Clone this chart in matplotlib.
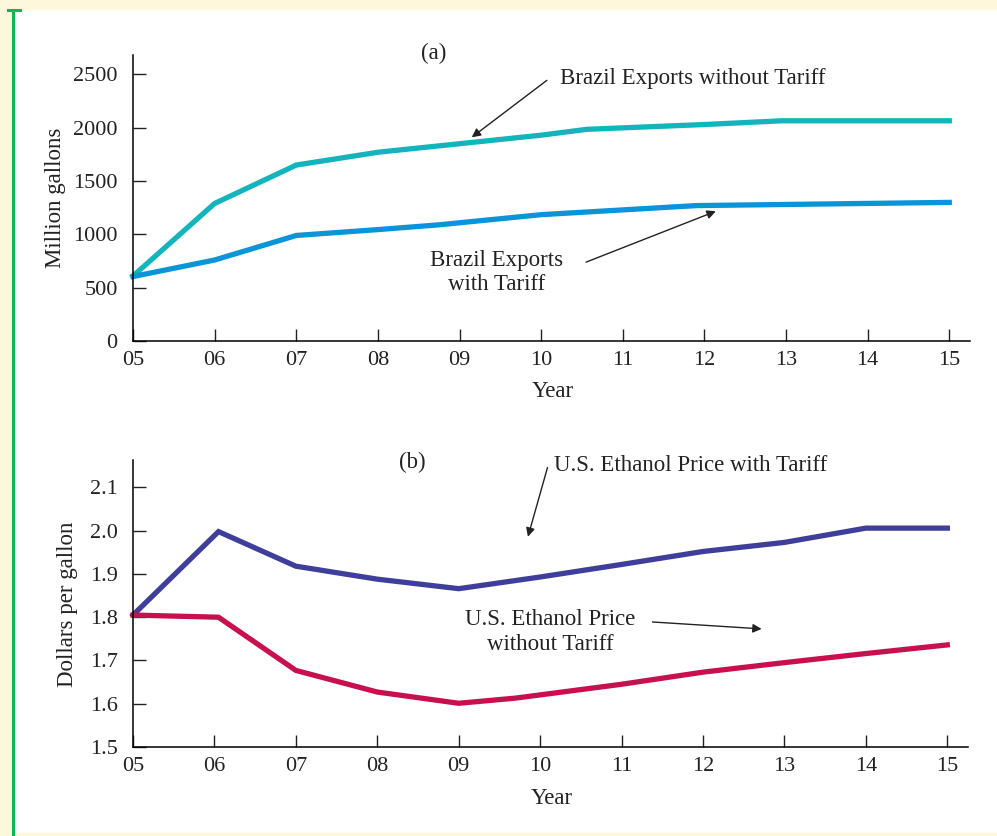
import matplotlib.pyplot as plt
from matplotlib.patches import Rectangle
from matplotlib.lines import Line2D

# panel (a): Brazil exports, million gallons
yr_no_tariff = [5, 6, 7, 8, 9, 10, 10.56, 12, 12.95, 15]
exp_no_tariff = [610, 1290, 1650, 1770, 1850, 1930, 1985, 2030, 2065, 2065]
yr_tariff = [5, 6, 7, 8, 8.75, 10, 11.9, 15]
exp_tariff = [605, 760, 990, 1045, 1090, 1185, 1270, 1300]

# panel (b): U.S. ethanol price, dollars per gallon
yr_price = [5, 6.05, 7, 8, 9, 10, 11, 12, 13, 14, 15]
price_tariff = [1.805, 1.998, 1.918, 1.888, 1.866, 1.893, 1.922, 1.952, 1.973, 2.006, 2.006]
yr_price_no = [5, 6.05, 7, 8, 9, 9.7, 11, 12, 13, 14, 15]
price_no_tariff = [1.805, 1.800, 1.677, 1.627, 1.601, 1.613, 1.645, 1.673, 1.695, 1.716, 1.736]

year_ticks = [5, 6, 7, 8, 9, 10, 11, 12, 13, 14, 15]
year_labels = ['05', '06', '07', '08', '09', '10', '11', '12', '13', '14', '15']

plt.rcParams['font.family'] = ['Liberation Serif', 'DejaVu Serif']
plt.rcParams['font.size'] = 16.5

fig = plt.figure(figsize=(9.97, 8.36), dpi=100)
fig.patch.set_facecolor('white')

# page frame: pale yellow margins and green rule
bg = '#fdf8dc'
fig.patches.append(Rectangle((0, 0.989), 1, 0.011, transform=fig.transFigure, color=bg, zorder=0))
fig.patches.append(Rectangle((0, 0), 0.012, 1, transform=fig.transFigure, color=bg, zorder=0))
fig.patches.append(Rectangle((0, 0), 1, 0.003, transform=fig.transFigure, color=bg, zorder=0))
fig.lines.append(Line2D([0.0135, 0.0135], [0, 0.9875], transform=fig.transFigure, color='#10b654', lw=2.2))
fig.lines.append(Line2D([0.008, 0.020], [0.9875, 0.9875], transform=fig.transFigure, color='#10b654', lw=2.2))

ax1 = fig.add_axes([0.1334, 0.592, 0.840, 0.342])
ax2 = fig.add_axes([0.1334, 0.1065, 0.838, 0.3435])

tc = '#222222'
for ax in (ax1, ax2):
    ax.spines['top'].set_visible(False)
    ax.spines['right'].set_visible(False)
    ax.spines['left'].set_linewidth(1.1)
    ax.spines['bottom'].set_linewidth(1.1)
    ax.set_xlim(5, 15.26)
    ax.set_xticks(year_ticks)
    ax.set_xticklabels(year_labels)
    ax.tick_params(direction='in', length=9, width=1.0, colors=tc, labelcolor=tc, labelsize=16)
    ax.tick_params(axis='x', pad=7)
    ax.tick_params(axis='y', pad=11)
    ax.set_xlabel('Year', color=tc)
    ax.xaxis.set_label_coords(0.5015, -0.178)
    ax.xaxis.label.set_va('center')
    ax.set_facecolor('white')

ax1.plot(yr_no_tariff, exp_no_tariff, color='#14b4bd', lw=3.8, solid_joinstyle='miter', clip_on=False)
ax1.plot(yr_tariff, exp_tariff, color='#0a95d8', lw=3.8, solid_joinstyle='miter', clip_on=False)
ax1.set_ylim(0, 2680)
ax1.set_yticks([0, 500, 1000, 1500, 2000, 2500])
ax1.set_ylabel('Million gallons', color=tc)
ax1.yaxis.set_label_coords(-0.093, 0.5)
ax1.yaxis.label.set_va('center')

ax2.plot(yr_price, price_tariff, color='#3f3f9b', lw=3.8, solid_joinstyle='miter', clip_on=False)
ax2.plot(yr_price_no, price_no_tariff, color='#c8104f', lw=3.8, solid_joinstyle='miter', clip_on=False)
ax2.set_ylim(1.5, 2.164)
ax2.set_yticks([1.5, 1.6, 1.7, 1.8, 1.9, 2.0, 2.1])
ax2.set_yticklabels(['1.5', '1.6', '1.7', '1.8', '1.9', '2.0', '2.1'])
ax2.set_ylabel('Dollars per gallon', color=tc)
ax2.yaxis.set_label_coords(-0.078, 0.498)
ax2.yaxis.label.set_va('center')

arrow = dict(arrowstyle='-|>', lw=1.0, color=tc, mutation_scale=13, shrinkA=0, shrinkB=0)

ax1.text(8.68, 2697, '(a)', ha='center', va='center', color=tc)
ax1.text(10.23, 2462, 'Brazil Exports without Tariff', ha='left', va='center', color=tc)
ax1.annotate('', xy=(9.15, 1910), xytext=(10.07, 2444), arrowprops=arrow)
ax1.text(9.45, 640, 'Brazil Exports\nwith Tariff', ha='center', va='center',
         multialignment='center', color=tc, linespacing=1.2)
ax1.annotate('', xy=(12.14, 1217), xytext=(10.55, 740), arrowprops=arrow)

ax2.text(8.43, 2.157, '(b)', ha='center', va='center', color=tc)
ax2.text(10.17, 2.150, 'U.S. Ethanol Price with Tariff', ha='left', va='center', color=tc)
ax2.annotate('', xy=(9.85, 1.986), xytext=(10.09, 2.146), arrowprops=arrow)
ax2.text(10.12, 1.766, 'U.S. Ethanol Price\nwithout Tariff', ha='center', va='center',
         multialignment='center', color=tc, linespacing=1.2)
ax2.annotate('', xy=(12.72, 1.773), xytext=(11.38, 1.789), arrowprops=arrow)

fig.savefig('out.png', dpi=100)
